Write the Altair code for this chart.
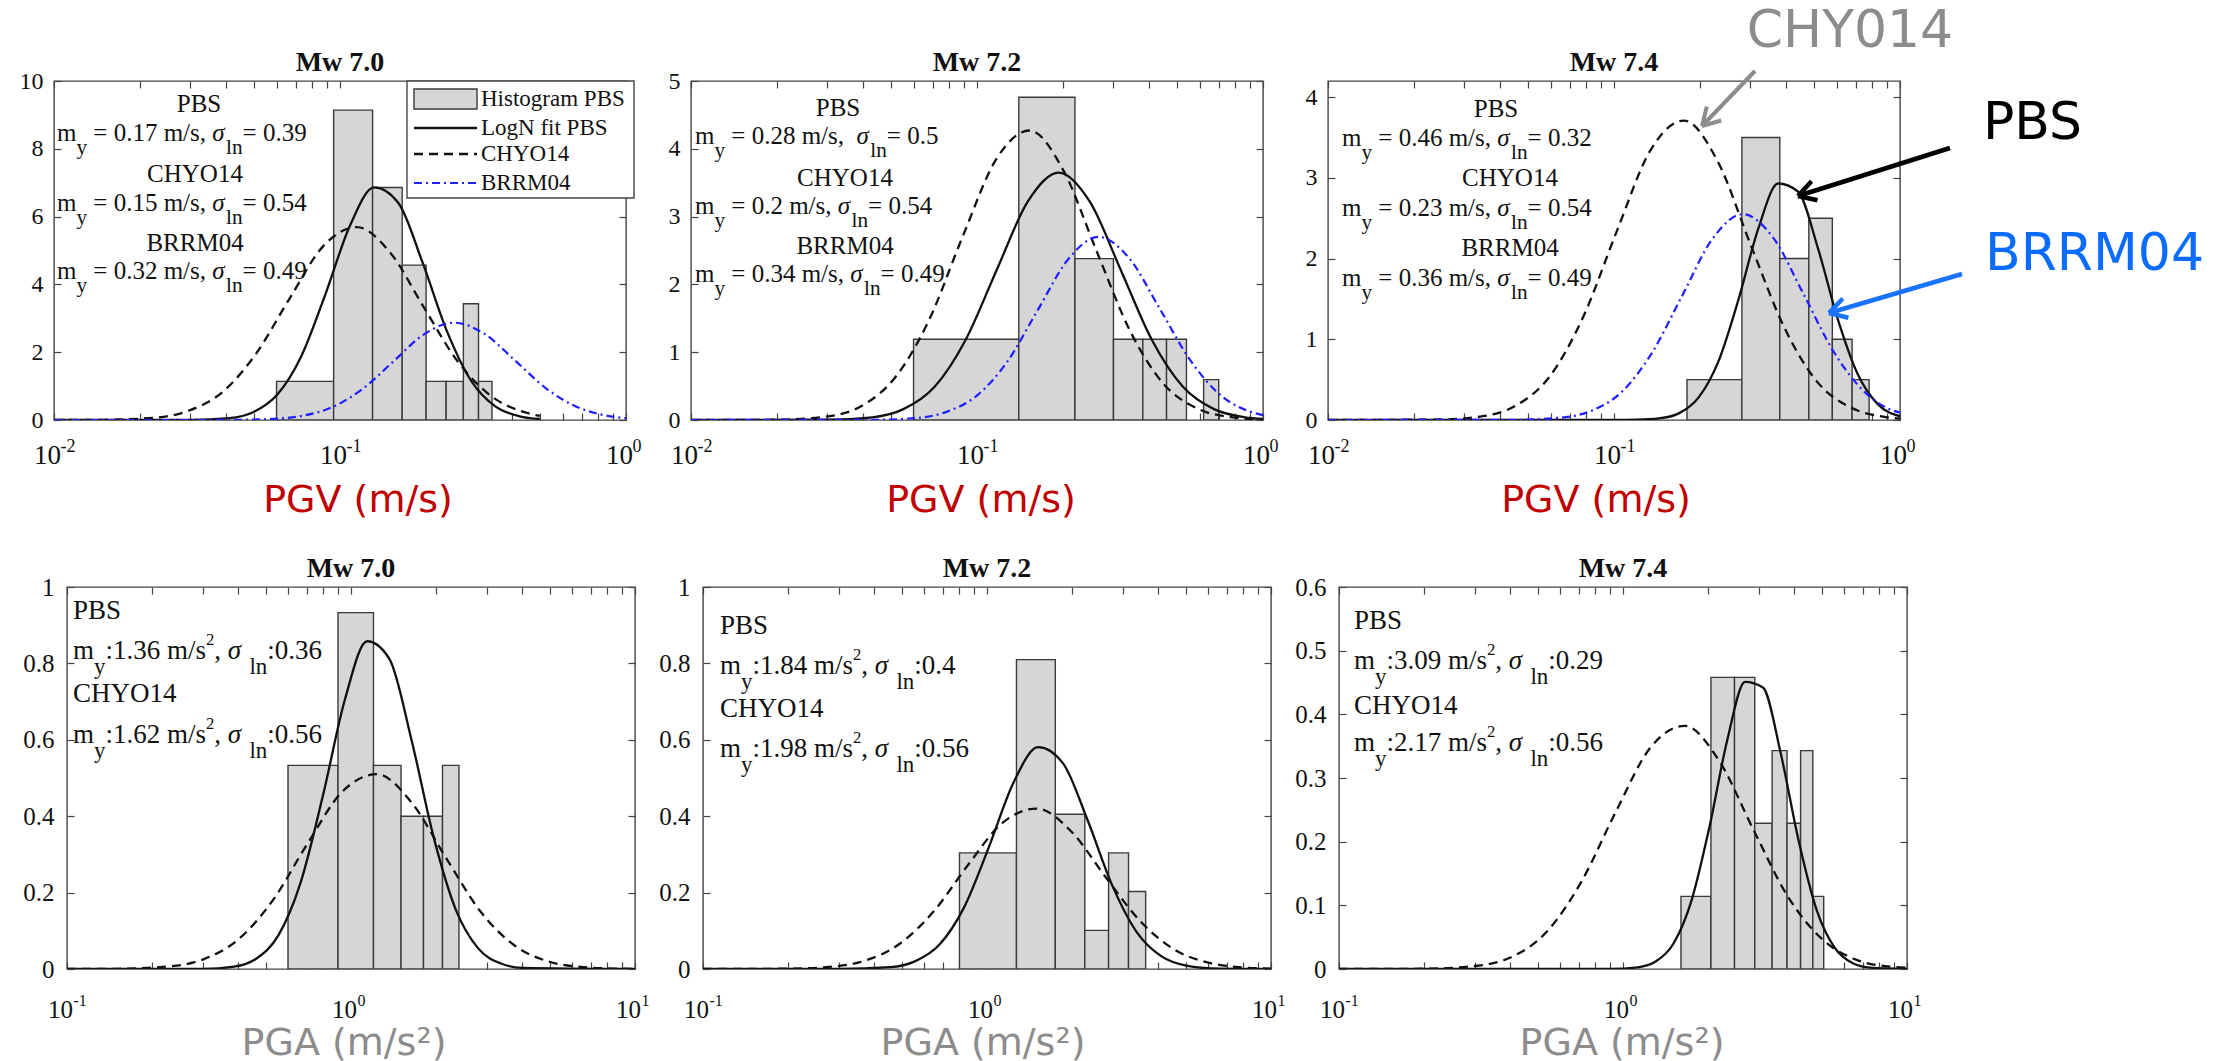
import math
import altair as alt
import pandas as pd

# ------------------------------------------------------------------ data
# top row: PGV (m/s), bottom row: PGA (m/s^2); histogram bin edges + densities
T1_EDGES = [0.06, 0.095, 0.13, 0.165, 0.20, 0.235, 0.27, 0.305, 0.34]
T1_HEIGHTS = [1.14, 9.14, 6.86, 4.57, 1.14, 1.14, 3.43, 1.14]
T1_PBS_X = [0.01, 0.02, 0.03, 0.0409, 0.0497, 0.0604, 0.0733, 0.0891, 0.1083, 0.1317, 0.16, 0.1945, 0.2363, 0.2872, 0.3491, 0.4243, 0.5]
T1_PBS_Y = [0.0, 0.0, 0.003, 0.055, 0.23, 0.75, 1.89, 3.73, 5.73, 6.86, 6.40, 4.64, 2.63, 1.16, 0.40, 0.11, 0.03]
T1_CHY_X = [0.01, 0.015, 0.0227, 0.0297, 0.0389, 0.0509, 0.0667, 0.0874, 0.1145, 0.15, 0.1965, 0.2574, 0.3372, 0.4417, 0.5]
T1_CHY_Y = [0.0, 0.006, 0.071, 0.28, 0.83, 1.96, 3.59, 5.13, 5.69, 4.93, 3.32, 1.74, 0.71, 0.23, 0.12]
T1_BRR_X = [0.01, 0.03, 0.045, 0.0576, 0.0736, 0.094, 0.1201, 0.1534, 0.196, 0.2505, 0.32, 0.4088, 0.5224, 0.6673, 0.8526, 1.0]
T1_BRR_Y = [0.0, 0.0, 0.006, 0.031, 0.12, 0.38, 0.92, 1.72, 2.52, 2.87, 2.54, 1.76, 0.95, 0.40, 0.13, 0.055]

T2_EDGES = [0.06, 0.14, 0.22, 0.30, 0.38, 0.46, 0.54, 0.62, 0.70]
T2_HEIGHTS = [1.19, 4.76, 2.38, 1.19, 1.19, 1.19, 0.0, 0.595]
T2_PBS_X = [0.01, 0.03, 0.0431, 0.0553, 0.0711, 0.0912, 0.1171, 0.1504, 0.1931, 0.248, 0.3184, 0.4089, 0.525, 0.6741, 0.8656, 1.0]
T2_PBS_Y = [0.0, 0.0035, 0.04, 0.16, 0.49, 1.18, 2.21, 3.22, 3.65, 3.22, 2.21, 1.18, 0.49, 0.16, 0.04, 0.016]
T2_CHY_X = [0.01, 0.02, 0.0302, 0.0396, 0.0518, 0.0679, 0.089, 0.1165, 0.1527, 0.2, 0.262, 0.3432, 0.4496, 0.5889, 0.7716, 1.0]
T2_CHY_Y = [0.0, 0.004, 0.054, 0.21, 0.63, 1.47, 2.70, 3.84, 4.27, 3.69, 2.49, 1.31, 0.53, 0.17, 0.042, 0.009]
T2_BRR_X = [0.01, 0.045, 0.0612, 0.0782, 0.0999, 0.1276, 0.163, 0.2083, 0.2661, 0.34, 0.4344, 0.555, 0.709, 0.9059, 1.0]
T2_BRR_Y = [0.0, 0.004, 0.029, 0.12, 0.36, 0.86, 1.62, 2.37, 2.70, 2.39, 1.65, 0.89, 0.37, 0.12, 0.072]

T3_EDGES = [0.18, 0.28, 0.38, 0.48, 0.58, 0.68, 0.78]
T3_HEIGHTS = [0.5, 3.5, 2.0, 2.5, 1.0, 0.5]
T3_PBS_X = [0.01, 0.1, 0.12, 0.1436, 0.1685, 0.1977, 0.232, 0.2723, 0.3195, 0.3749, 0.44, 0.5163, 0.6059, 0.711, 0.8344, 1.0]
T3_PBS_Y = [0.0, 0.0003, 0.003, 0.019, 0.082, 0.28, 0.73, 1.49, 2.37, 2.93, 2.83, 2.13, 1.25, 0.57, 0.20, 0.046]
T3_CHY_X = [0.01, 0.025, 0.0348, 0.0455, 0.0596, 0.0781, 0.1023, 0.134, 0.1756, 0.23, 0.3013, 0.3947, 0.517, 0.6773, 0.8874, 1.0]
T3_CHY_Y = [0.0, 0.006, 0.047, 0.18, 0.54, 1.28, 2.34, 3.34, 3.71, 3.21, 2.16, 1.14, 0.46, 0.15, 0.037, 0.018]
T3_BRR_X = [0.01, 0.045, 0.0648, 0.0828, 0.1058, 0.1351, 0.1726, 0.2205, 0.2818, 0.36, 0.4599, 0.5877, 0.7507, 0.9592, 1.0]
T3_BRR_Y = [0.0, 0.002, 0.028, 0.11, 0.34, 0.82, 1.53, 2.24, 2.55, 2.26, 1.56, 0.84, 0.35, 0.11, 0.093]

B1_EDGES = [0.6, 0.9, 1.2, 1.5, 1.8, 2.1, 2.4]
B1_HEIGHTS = [0.533, 0.933, 0.533, 0.4, 0.4, 0.533]
B1_PBS_X = [0.1, 0.3, 0.3873, 0.4635, 0.555, 0.6645, 0.7954, 0.9524, 1.1402, 1.365, 1.6342, 1.9564, 2.3425, 2.804, 3.357, 4.019, 10.0]
B1_PBS_Y = [0.0, 0.0005, 0.0063, 0.027, 0.088, 0.226, 0.452, 0.706, 0.858, 0.812, 0.599, 0.344, 0.154, 0.054, 0.015, 0.003, 0.0]
B1_CHY_X = [0.1, 0.15, 0.2297, 0.3038, 0.402, 0.5319, 0.7037, 0.9311, 1.232, 1.63, 2.1567, 2.8535, 3.7756, 4.9954, 6.61, 8.745, 10.0]
B1_CHY_Y = [0.0, 0.0005, 0.0068, 0.026, 0.078, 0.181, 0.329, 0.464, 0.510, 0.437, 0.292, 0.151, 0.061, 0.019, 0.0047, 0.0009, 0.0002]

B2_EDGES = [0.8, 1.27, 1.74, 2.21, 2.68, 3.15, 3.62]
B2_HEIGHTS = [0.304, 0.810, 0.405, 0.101, 0.304, 0.203]
B2_PBS_X = [0.1, 0.3, 0.4562, 0.5572, 0.6806, 0.8312, 1.0153, 1.2401, 1.5146, 1.85, 2.2596, 2.7599, 3.371, 4.1174, 5.0289, 6.142, 10.0]
B2_PBS_Y = [0.0, 0.0, 0.0048, 0.020, 0.064, 0.162, 0.319, 0.488, 0.581, 0.539, 0.390, 0.219, 0.096, 0.033, 0.0087, 0.0018, 0.0]
B2_CHY_X = [0.1, 0.2, 0.279, 0.369, 0.4883, 0.6461, 0.8548, 1.131, 1.4965, 1.98, 2.6198, 3.4661, 4.5862, 6.0679, 8.0293, 10.0]
B2_CHY_Y = [0.0, 0.0008, 0.0056, 0.021, 0.064, 0.149, 0.271, 0.382, 0.420, 0.360, 0.240, 0.125, 0.050, 0.016, 0.0039, 0.0011]

B3_EDGES = [1.6, 2.04, 2.47, 2.91, 3.35, 3.78, 4.22, 4.66, 5.09]
B3_HEIGHTS = [0.114, 0.458, 0.458, 0.229, 0.343, 0.229, 0.343, 0.114]
B3_PBS_X = [0.1, 0.9, 1.127, 1.303, 1.5063, 1.7413, 2.0131, 2.3272, 2.6902, 3.11, 3.5952, 4.1563, 4.8048, 5.5546, 6.4216, 7.4224, 10.0]
B3_PBS_Y = [0.0, 0.0002, 0.0027, 0.0117, 0.040, 0.107, 0.222, 0.359, 0.451, 0.442, 0.338, 0.201, 0.093, 0.034, 0.0094, 0.0021, 0.0]
B3_CHY_X = [0.1, 0.2, 0.3072, 0.4063, 0.5376, 0.7114, 0.9411, 1.2453, 1.6477, 2.18, 2.8844, 3.8163, 5.0495, 6.6808, 8.8403, 10.0]
B3_CHY_Y = [0.0, 0.0004, 0.0051, 0.019, 0.058, 0.136, 0.246, 0.347, 0.382, 0.327, 0.218, 0.113, 0.046, 0.014, 0.0035, 0.002]

# panel statistics text (name, m_y, sigma_ln)
T1_STATS = [("PBS", "0.17", "0.39"), ("CHYO14", "0.15", "0.54"), ("BRRM04", "0.32", "0.49")]
T2_STATS = [("PBS", " 0.28", "0.5"), ("CHYO14", "0.2", "0.54"), ("BRRM04", "0.34", "0.49")]
T3_STATS = [("PBS", "0.46", "0.32"), ("CHYO14", "0.23", "0.54"), ("BRRM04", "0.36", "0.49")]
B1_STATS = [("PBS", "1.36", "0.36"), ("CHYO14", "1.62", "0.56")]
B2_STATS = [("PBS", "1.84", "0.4"), ("CHYO14", "1.98", "0.56")]
B3_STATS = [("PBS", "3.09", "0.29"), ("CHYO14", "2.17", "0.56")]

TITLES = ["Mw 7.0", "Mw 7.2", "Mw 7.4"]
LEGEND_LABELS = ["Histogram PBS", "LogN fit PBS", "CHYO14", "BRRM04"]
TOP_XTICKS = [0.01, 0.1, 1]
TOP_XEXP = ["-2", "-1", "0"]
BOT_XTICKS = [0.1, 1, 10]
BOT_XEXP = ["-1", "0", "1"]
T1_YTICKS = [0, 2, 4, 6, 8, 10]
T2_YTICKS = [0, 1, 2, 3, 4, 5]
T3_YTICKS = [0, 1, 2, 3, 4]
B1_YTICKS = [0, 0.2, 0.4, 0.6, 0.8, 1]
B2_YTICKS = [0, 0.2, 0.4, 0.6, 0.8, 1]
B3_YTICKS = [0, 0.1, 0.2, 0.3, 0.4, 0.5, 0.6]

# ------------------------------------------------------------------ style
FRAME = "#444444"
HIST_FILL = "#d6d6d6"
HIST_EDGE = "#3a3a3a"
SERIF = "Liberation Serif"
SANS = "DejaVu Sans"
INK = "#111111"
BLUE_LINE = "#1f1fff"
TICK = 7
SOLID = dict(color=INK, strokeWidth=2.3)
DASH = dict(color=INK, strokeWidth=2.3, strokeDash=[9, 6])
DASHDOT = dict(color=BLUE_LINE, strokeWidth=2.2, strokeDash=[8, 4, 2, 4])

TW_TOP, TH_TOP = 572, 339
TW_BOT, TH_BOT = 568, 382

ONE = pd.DataFrame({"k": [0]})
TW = {" ": 250, "=": 564, ".": 250, ",": 250, ":": 278, "/": 278, "m": 778, "s": 389,
      "y": 500, "l": 278, "n": 500, "σ": 550}


def tw(s, size):
    return sum(TW.get(c, 500) for c in s) / 1000.0 * size


def txt(text, x, y, size, color=INK, font=SERIF, align="left", baseline="middle",
        style="normal", weight="normal"):
    return alt.Chart(ONE).mark_text(
        text=text, font=font, fontSize=size, color=color, align=align,
        baseline=baseline, fontStyle=style, fontWeight=weight,
    ).encode(x=alt.value(x), y=alt.value(y))


def rich(segs, x0, y, size):
    out = []
    x = x0
    for s, kind in segs:
        fs, dy, style = size, 0.0, "normal"
        if kind == "sub":
            fs, dy = size * 0.85, size * 0.6
        elif kind == "sup":
            fs, dy = size * 0.62, -size * 0.42
        elif kind == "it":
            style = "italic"
        lead = len(s) - len(s.lstrip(" "))
        body = s.strip(" ")
        if body:
            out.append(txt(body, x + tw(s[:lead], fs), y + dy, fs, style=style))
        x += tw(s, fs)
    return out


def top_stats(stats, head_x, head_y, row_y, x0, size=25):
    out = []
    for (name, m, s), hx, hy, ry in zip(stats, head_x, head_y, row_y):
        out.append(txt(name, hx, hy, size, align="center"))
        segs = [("m", "n"), ("y", "sub"), (f" = {m} m/s, ", "n"), ("σ", "it"),
                ("ln", "sub"), (f"= {s}", "n")]
        out += rich(segs, x0, ry, size)
    return out


def bot_stats(stats, x0, head_y, row_y, size=27):
    out = []
    for (name, m, s), hy, ry in zip(stats, head_y, row_y):
        out.append(txt(name, x0, hy, size))
        segs = [("m", "n"), ("y", "sub"), (f":{m} m/s", "n"), ("2", "sup"), (", ", "n"),
                ("σ", "it"), (" ", "n"), ("ln", "sub"), (f":{s}", "n")]
        out += rich(segs, x0, ry, size)
    return out


def rule(x0, y0, x1, y1, color, width, dash=None):
    kw = dict(color=color, strokeWidth=width)
    if dash:
        kw["strokeDash"] = dash
    return alt.Chart(ONE).mark_rule(**kw).encode(
        x=alt.value(x0), x2=alt.value(x1), y=alt.value(y0), y2=alt.value(y1))


def arrow(x0, y0, x1, y1, color, width=4, head=20, ang=30):
    dx, dy = x0 - x1, y0 - y1
    L = math.hypot(dx, dy)
    ux, uy = dx / L, dy / L
    out = [rule(x0, y0, x1, y1, color, width)]
    for sgn in (1, -1):
        a = math.radians(ang * sgn)
        hx = ux * math.cos(a) - uy * math.sin(a)
        hy = ux * math.sin(a) + uy * math.cos(a)
        out.append(rule(x1, y1, x1 + hx * head, y1 + hy * head, color, width))
    return out


def minor_ticks(lo_exp, hi_exp):
    vals = []
    for e in range(lo_exp, hi_exp):
        for k in range(1, 10):
            vals.append(k * 10.0 ** e)
    vals.append(10.0 ** hi_exp)
    return vals


def label_expr(ticks, labels):
    expr = "''"
    for v, l in reversed(list(zip(ticks, labels))):
        expr = f"datum.value == {v} ? '{l}' : {expr}"
    return expr


def panel(edges, heights, curves, xdom, xvals, decades, exps, ydom, yvals, W, H, title,
          extras, xlab_size, ylab_size, xlab_pad, ylab_pad):
    xs = alt.Scale(type="log", domain=xdom, nice=False)
    ys = alt.Scale(domain=ydom, nice=False, zero=False)
    common = dict(offset=-TICK, tickSize=TICK, domain=False, grid=False, title=None,
                  tickColor=FRAME, tickWidth=1.2)
    base_expr = label_expr(decades, ["10"] * len(decades))
    exp_expr = label_expr(decades, exps)
    xb = alt.Axis(orient="bottom", values=xvals, labelExpr=base_expr, labelFont=SERIF,
                  labelFontSize=xlab_size, labelColor=INK, labelPadding=xlab_pad,
                  labelOverlap=False, labelFlush=False, labelBaseline="top",
                  labelOffset=-7, **common)
    xe = alt.Axis(orient="bottom", values=decades, labelExpr=exp_expr, labelFont=SERIF,
                  labelFontSize=round(xlab_size * 0.66), labelColor=INK,
                  labelPadding=xlab_pad - 5, labelOverlap=False, labelFlush=False,
                  labelBaseline="top", labelAlign="left", labelOffset=6, tickOpacity=0,
                  **common)
    xt = alt.Axis(orient="top", values=xvals, labels=False, **common)
    yl = alt.Axis(orient="left", values=yvals, format=".1~f", labelFont=SERIF,
                  labelFontSize=ylab_size, labelColor=INK, labelPadding=ylab_pad,
                  labelOverlap=False, labelFlush=False, **common)
    yr = alt.Axis(orient="right", values=yvals, labels=False, **common)

    hdf = pd.DataFrame({"x0": edges[:-1], "x1": edges[1:], "h": heights})
    hdf = hdf[hdf["h"] > 0].assign(base=0.0)
    hist = alt.Chart(hdf).mark_rect(fill=HIST_FILL, stroke=HIST_EDGE, strokeWidth=1.4,
                                    clip=True).encode(
        x=alt.X("x0:Q", scale=xs, axis=xb), x2="x1:Q",
        y=alt.Y("h:Q", scale=ys, axis=yl), y2="base:Q")
    layers = [hist]
    for i, (cx, cy, st) in enumerate(curves):
        df = pd.DataFrame({"x": cx, "y": cy})
        xa = xt if i == 0 else (xe if i == 1 else None)
        ya = yr if i == 0 else None
        layers.append(alt.Chart(df).mark_line(clip=True, interpolate="monotone", **st).encode(
            x=alt.X("x:Q", scale=xs, axis=xa),
            y=alt.Y("y:Q", scale=ys, axis=ya)))
    layers.append(txt(title, W / 2, -10, 28, align="center", baseline="alphabetic",
                      weight="bold"))
    layers += extras
    return alt.layer(*layers).resolve_axis(x="independent", y="independent").properties(
        width=W, height=H)


TOP_MINOR = minor_ticks(-2, 0)
BOT_MINOR = minor_ticks(-1, 1)

PGV = "PGV (m/s)"
PGA = "PGA (m/s²)"
PGV_COLOR = "#c00000"
PGA_COLOR = "#8c8c8c"

# ---------------- legend (panel 1 top)
legend = [
    alt.Chart(ONE).mark_rect(fill="white", stroke=FRAME, strokeWidth=1.4).encode(
        x=alt.value(353), x2=alt.value(580), y=alt.value(0), y2=alt.value(117)),
    alt.Chart(ONE).mark_rect(fill=HIST_FILL, stroke=HIST_EDGE, strokeWidth=1.4).encode(
        x=alt.value(360), x2=alt.value(423), y=alt.value(8), y2=alt.value(28)),
    rule(360, 47, 423, 47, INK, 2.3),
    rule(360, 73, 423, 73, INK, 2.3, [9, 6]),
    rule(360, 102, 423, 102, BLUE_LINE, 2.2, [8, 4, 2, 4]),
]
for lab, ly in zip(LEGEND_LABELS, [18, 47, 73, 102]):
    legend.append(txt(lab, 427, ly, 23))

t1_extra = legend + top_stats(T1_STATS, [145, 141, 141], [23, 93, 162], [52, 122, 190], 3) + [
    txt(PGV, 304, TH_TOP + 81, 38, color=PGV_COLOR, font=SANS, align="center")]
t2_extra = top_stats(T2_STATS, [147, 154, 154], [27, 97, 165], [55, 125, 193], 4) + [
    txt(PGV, 290, TH_TOP + 81, 38, color=PGV_COLOR, font=SANS, align="center")]
t3_extra = top_stats(T3_STATS, [168, 182, 182], [28, 97, 167], [57, 127, 197], 14) + [
    txt(PGV, 268, TH_TOP + 81, 38, color=PGV_COLOR, font=SANS, align="center"),
    txt("CHY014", 522, -50, 52, color="#8c8c8c", font=SANS, align="center"),
    txt("PBS", 655, 42, 52, color="#000000", font=SANS),
    txt("BRRM04", 657, 173, 52, color="#0a6cff", font=SANS),
] + arrow(427, -10, 374, 45, "#8c8c8c", 4) + arrow(622, 67, 470, 115, "#000000", 4.5) \
  + arrow(634, 193, 501, 232, "#1a73ff", 4.5)

b1_extra = bot_stats(B1_STATS, 6, [24, 107], [64, 148]) + [
    txt(PGA, 277, TH_BOT + 75, 38, color=PGA_COLOR, font=SANS, align="center")]
b2_extra = bot_stats(B2_STATS, 17, [39, 122], [79, 162]) + [
    txt(PGA, 280, TH_BOT + 75, 38, color=PGA_COLOR, font=SANS, align="center")]
b3_extra = bot_stats(B3_STATS, 15, [34, 119], [74, 156]) + [
    txt(PGA, 283, TH_BOT + 75, 38, color=PGA_COLOR, font=SANS, align="center")]

TOPARGS = dict(xdom=[0.01, 1], xvals=TOP_MINOR, decades=TOP_XTICKS, exps=TOP_XEXP,
               W=TW_TOP, H=TH_TOP, xlab_size=27, ylab_size=24, xlab_pad=22, ylab_pad=11)
BOTARGS = dict(xdom=[0.1, 10], xvals=BOT_MINOR, decades=BOT_XTICKS, exps=BOT_XEXP,
               W=TW_BOT, H=TH_BOT, xlab_size=25, ylab_size=25, xlab_pad=28, ylab_pad=13)

p_t1 = panel(T1_EDGES, T1_HEIGHTS, [(T1_PBS_X, T1_PBS_Y, SOLID), (T1_CHY_X, T1_CHY_Y, DASH),
                                    (T1_BRR_X, T1_BRR_Y, DASHDOT)],
             ydom=[0, 10], yvals=T1_YTICKS, title=TITLES[0], extras=t1_extra, **TOPARGS)
p_t2 = panel(T2_EDGES, T2_HEIGHTS, [(T2_PBS_X, T2_PBS_Y, SOLID), (T2_CHY_X, T2_CHY_Y, DASH),
                                    (T2_BRR_X, T2_BRR_Y, DASHDOT)],
             ydom=[0, 5], yvals=T2_YTICKS, title=TITLES[1], extras=t2_extra, **TOPARGS)
p_t3 = panel(T3_EDGES, T3_HEIGHTS, [(T3_PBS_X, T3_PBS_Y, SOLID), (T3_CHY_X, T3_CHY_Y, DASH),
                                    (T3_BRR_X, T3_BRR_Y, DASHDOT)],
             ydom=[0, 4.2], yvals=T3_YTICKS, title=TITLES[2], extras=t3_extra, **TOPARGS)
p_b1 = panel(B1_EDGES, B1_HEIGHTS, [(B1_PBS_X, B1_PBS_Y, SOLID), (B1_CHY_X, B1_CHY_Y, DASH)],
             ydom=[0, 1], yvals=B1_YTICKS, title=TITLES[0], extras=b1_extra, **BOTARGS)
p_b2 = panel(B2_EDGES, B2_HEIGHTS, [(B2_PBS_X, B2_PBS_Y, SOLID), (B2_CHY_X, B2_CHY_Y, DASH)],
             ydom=[0, 1], yvals=B2_YTICKS, title=TITLES[1], extras=b2_extra, **BOTARGS)
p_b3 = panel(B3_EDGES, B3_HEIGHTS, [(B3_PBS_X, B3_PBS_Y, SOLID), (B3_CHY_X, B3_CHY_Y, DASH)],
             ydom=[0, 0.6], yvals=B3_YTICKS, title=TITLES[2], extras=b3_extra, **BOTARGS)

spacer = alt.Chart(ONE).mark_point(opacity=0).encode(
    x=alt.value(0), y=alt.value(0)
).properties(width=13, height=TH_BOT, view=alt.ViewBackground(stroke="transparent"))

top = alt.hconcat(p_t1, p_t2, p_t3, spacing=65, bounds="flush")
bottom_panels = alt.hconcat(p_b1, p_b2, p_b3, spacing=68, bounds="flush")
bottom = alt.hconcat(spacer, bottom_panels, spacing=0, bounds="flush")

chart = alt.vconcat(top, bottom, spacing=33).properties(
    padding={"left": 18, "top": 4, "right": 6, "bottom": 2},
    background="white",
).configure_view(stroke=FRAME, strokeWidth=1.4)

chart.save("out.html", embed_options={"renderer": "svg", "actions": False})
